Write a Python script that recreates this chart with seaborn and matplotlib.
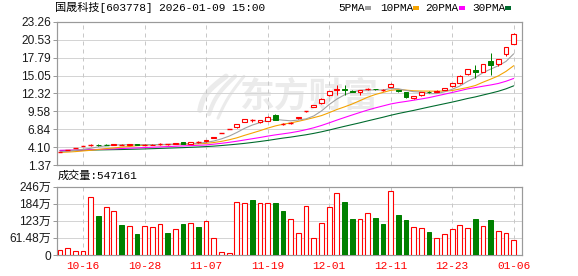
import numpy as np
import pandas as pd
import matplotlib
matplotlib.use("Agg")
import matplotlib.pyplot as plt
from matplotlib.patches import Rectangle
import seaborn as sns

# ---------------- data ----------------
title = "国晟科技[603778] 2026-01-09 15:00"
vol_title = "成交量:547161"
tick_idx = [3, 11, 19, 27, 35, 43, 51, 59]
tick_labels = ["10-16", "10-28", "11-07", "11-19", "12-01", "12-11", "12-23", "01-06"]
price_ticks = [1.37, 4.10, 6.84, 9.58, 12.32, 15.05, 17.79, 20.53, 23.26]
price_tick_labels = ["1.37", "4.10", "6.84", "9.58", "12.32", "15.05", "17.79", "20.53", "23.26"]
vol_ticks = [0, 61.48, 122.96, 184.44, 245.92]
vol_tick_labels = ["0", "61.48万", "123万", "184万", "246万"]

opens = [3.29, 3.62, 3.96, 4.33, 4.45, 4.42, 4.48, 4.45, 4.46, 4.42,
         4.53, 4.48, 4.45, 4.55, 4.55, 4.55, 4.90, 4.62, 4.82, 4.98,
         5.55, 6.29, 6.92, 7.15, 7.95, 8.20, 7.90, 8.10, 8.95, 7.70,
         7.78, 8.50, 9.62, 10.30, 10.80, 12.05, 12.90, 13.00, 12.70, 12.55,
         12.98, 13.02, 12.80, 13.30, 12.85, 12.55, 11.60, 12.05, 12.62, 12.58,
         12.90, 13.40, 13.85, 15.35, 15.85, 15.65, 17.25, 16.90, 18.40, 19.95]
highs = [3.29, 3.62, 3.96, 4.33, 4.62, 4.55, 4.58, 4.56, 4.55, 4.55,
         4.55, 4.65, 4.55, 4.72, 4.62, 4.75, 4.95, 4.85, 5.00, 5.25,
         5.72, 6.29, 6.92, 7.61, 8.37, 8.45, 8.30, 8.80, 9.20, 7.85,
         7.95, 8.78, 9.65, 10.55, 11.55, 12.75, 13.60, 13.55, 12.78, 12.90,
         13.10, 13.08, 12.95, 13.95, 12.90, 12.60, 12.00, 12.60, 12.75, 12.85,
         13.20, 13.95, 15.15, 16.10, 16.65, 16.90, 18.50, 17.65, 19.45, 21.50]
lows = [3.29, 3.62, 3.96, 4.33, 4.32, 4.28, 4.36, 4.42, 4.40, 4.40,
        4.40, 4.42, 4.43, 4.50, 4.50, 4.52, 4.58, 4.58, 4.75, 4.95,
        5.50, 6.29, 6.92, 7.05, 7.90, 7.95, 7.85, 8.05, 8.20, 7.50,
        7.65, 8.45, 9.45, 10.25, 10.75, 12.00, 12.05, 12.10, 12.52, 12.05,
        12.90, 12.85, 12.65, 13.25, 12.62, 11.65, 11.45, 12.00, 12.45, 12.55,
        12.85, 13.35, 13.80, 15.10, 14.70, 15.55, 15.15, 16.50, 18.00, 19.85]
closes = [3.29, 3.62, 3.96, 4.33, 4.47, 4.38, 4.45, 4.52, 4.47, 4.52,
          4.43, 4.50, 4.50, 4.58, 4.57, 4.72, 4.62, 4.82, 4.83, 5.20,
          5.72, 6.29, 6.92, 7.61, 8.37, 8.22, 8.20, 8.75, 8.25, 7.72,
          7.80, 8.75, 9.63, 10.50, 11.52, 12.70, 12.95, 12.90, 12.58, 12.85,
          13.02, 12.97, 12.83, 13.70, 12.70, 11.75, 11.95, 12.55, 12.50, 12.75,
          13.15, 13.85, 15.05, 16.05, 15.65, 16.85, 16.65, 17.60, 19.40, 21.45]

volume_wan = [17, 25, 13, 13, 208, 140, 171, 158, 108, 103,
              75, 103, 99, 110, 79, 93, 111, 114, 100, 122,
              61, 10, 6, 190, 186, 197, 186, 186, 187, 159,
              129, 79, 176, 61, 115, 172, 223, 191, 130, 130,
              150, 134, 111, 231, 144, 127, 100, 97, 83, 61,
              75, 93, 108, 97, 130, 104, 127, 86, 79, 54]
vol_up = [1, 1, 1, 1, 1, 0, 1, 1, 0, 1,
          0, 1, 1, 1, 0, 1, 0, 1, 0, 1,
          1, 1, 1, 1, 1, 0, 1, 1, 0, 0,
          1, 1, 1, 1, 1, 1, 1, 0, 0, 1,
          1, 0, 0, 1, 0, 0, 1, 1, 0, 1,
          1, 1, 1, 1, 0, 1, 0, 1, 1, 1]

ma5 = [3.40, 3.48, 3.60, 3.78, 3.93, 4.15, 4.32, 4.43, 4.46, 4.47,
       4.48, 4.49, 4.48, 4.51, 4.52, 4.57, 4.60, 4.66, 4.71, 4.84,
       5.04, 5.37, 5.79, 6.35, 6.98, 7.48, 7.86, 8.23, 8.36, 8.23,
       8.14, 8.25, 8.43, 8.88, 9.64, 10.62, 11.46, 12.11, 12.53, 12.80,
       12.86, 12.86, 12.85, 13.07, 13.04, 12.79, 12.59, 12.53, 12.29, 12.30,
       12.58, 12.96, 13.46, 14.17, 14.75, 15.49, 16.05, 16.56, 17.23, 18.39]
ma10 = [3.30, 3.35, 3.42, 3.52, 3.62, 3.75, 3.88, 3.98, 4.10, 4.20,
        4.32, 4.40, 4.46, 4.48, 4.49, 4.53, 4.54, 4.57, 4.61, 4.68,
        4.81, 4.99, 5.23, 5.53, 5.91, 6.26, 6.62, 7.01, 7.35, 7.61,
        7.81, 8.06, 8.33, 8.62, 8.93, 9.38, 9.86, 10.27, 10.71, 11.22,
        11.74, 12.16, 12.48, 12.80, 12.92, 12.83, 12.73, 12.69, 12.68, 12.67,
        12.69, 12.77, 13.00, 13.23, 13.53, 14.04, 14.51, 15.01, 15.70, 16.57]
ma20 = [3.62, 3.63, 3.65, 3.68, 3.72, 3.76, 3.80, 3.84, 3.89, 3.94,
        3.99, 4.04, 4.09, 4.14, 4.19, 4.24, 4.29, 4.34, 4.39, 4.44,
        4.56, 4.69, 4.84, 5.01, 5.20, 5.39, 5.58, 5.79, 5.98, 6.14,
        6.31, 6.52, 6.78, 7.07, 7.42, 7.82, 8.24, 8.64, 9.03, 9.41,
        9.78, 10.11, 10.41, 10.71, 10.93, 11.10, 11.29, 11.48, 11.69, 11.95,
        12.21, 12.47, 12.74, 13.02, 13.22, 13.43, 13.62, 13.85, 14.19, 14.62]
ma30 = [3.58, 3.60, 3.62, 3.64, 3.66, 3.68, 3.70, 3.72, 3.74, 3.77,
        3.80, 3.83, 3.87, 3.91, 3.95, 3.99, 4.03, 4.08, 4.13, 4.19,
        4.26, 4.35, 4.45, 4.56, 4.68, 4.82, 4.97, 5.13, 5.31, 5.49,
        5.64, 5.82, 6.00, 6.21, 6.45, 6.72, 7.01, 7.29, 7.56, 7.83,
        8.12, 8.40, 8.68, 8.98, 9.25, 9.49, 9.73, 9.99, 10.25, 10.50,
        10.75, 11.00, 11.27, 11.55, 11.79, 12.08, 12.36, 12.66, 13.03, 13.49]

# ---------------- style ----------------
sns.set_theme(style="white")
plt.rcParams["font.family"] = ["Liberation Sans", "Noto Sans CJK SC", "DejaVu Sans"]

UP = "#ff0000"
DOWN = "#008000"
GRID = "#d4d4d4"
FRAME = "#9a9a9a"
WATER = "#ebebeb"
MA_COLORS = {"5PMA": "#a0a0a0", "10PMA": "#f5a300", "20PMA": "#ff00ff", "30PMA": "#006b2e"}
PX = 0.72  # one pixel in points at dpi 100

W, H = 578, 276
fig = plt.figure(figsize=(W / 100, H / 100), dpi=100)
fig.patch.set_facecolor("white")

L, R = 57, 522
ax = fig.add_axes([L / W, (H - 165) / H, (R - L) / W, (165 - 22) / H])
axv = fig.add_axes([L / W, (H - 255) / H, (R - L) / W, (255 - 186.5) / H])

n = len(closes)
idx = np.arange(n)
xlim = (-0.39, 60.08)
bw = 0.62

# ---------------- watermark (logo strokes + text) ----------------
t = np.linspace(0, 1, 30)
for k in range(3):
    xs_px = 200 + 9 * k + 26 * t - 6 * np.sin(np.pi * t) * (1 - 0.3 * k)
    ys_px = 110 - 34 * t + 4 * k * (1 - t)
    ax.plot((xs_px - 60) / 7.69, 1.37 + (165 - ys_px) / 6.556, color=WATER,
            lw=(4.5 - k) * PX * 1.2, solid_capstyle="round", zorder=0)
ax.text(32.4, 11.9, "东方财富", fontsize=25, color=WATER, ha="center", va="center",
        family=["Noto Sans CJK SC"], fontweight="bold", zorder=0)

# ---------------- candlesticks ----------------
for i in range(n):
    o, h, l, c = opens[i], highs[i], lows[i], closes[i]
    up = c >= o
    col = UP if up else DOWN
    top, bot = max(o, c), min(o, c)
    if top - bot < 0.04:
        ax.vlines(i, l, h, color=col, lw=1 * PX, zorder=3)
        ax.hlines((o + c) / 2, i - bw / 2, i + bw / 2, color=col, lw=1.4 * PX, zorder=3)
        continue
    if h > top:
        ax.vlines(i, top, h, color=col, lw=1 * PX, zorder=3)
    if l < bot:
        ax.vlines(i, l, bot, color=col, lw=1 * PX, zorder=3)
    if up:
        ax.bar(i, top - bot, bottom=bot, width=bw, facecolor="white",
               edgecolor=col, linewidth=1.1 * PX, zorder=4)
    else:
        ax.bar(i, top - bot, bottom=bot, width=bw, facecolor=col,
               edgecolor=col, linewidth=1.0 * PX, zorder=4)

# ---------------- moving averages ----------------
ma_df = pd.DataFrame({"i": idx, "5PMA": ma5, "10PMA": ma10, "20PMA": ma20, "30PMA": ma30})
for name in ["30PMA", "20PMA", "10PMA", "5PMA"]:
    sns.lineplot(data=ma_df, x="i", y=name, ax=ax, color=MA_COLORS[name],
                 linewidth=1.1 * PX, zorder=2, legend=False)

ax.set_xlim(*xlim)
ax.set_ylim(price_ticks[0], price_ticks[-1])
ax.set_yticks(price_ticks)
ax.set_yticklabels(price_tick_labels)
ax.set_xticks(tick_idx)
ax.set_xticklabels([])
ax.set_xlabel("")
ax.set_ylabel("")

# ---------------- volume ----------------
for i in range(n):
    if vol_up[i]:
        axv.bar(i, volume_wan[i], width=bw, facecolor="white", edgecolor=UP,
                linewidth=1.1 * PX, zorder=3)
    else:
        axv.bar(i, volume_wan[i], width=bw, facecolor=DOWN, edgecolor=DOWN,
                linewidth=1.0 * PX, zorder=3)
axv.set_xlim(*xlim)
axv.set_ylim(0, vol_ticks[-1])
axv.set_yticks(vol_ticks)
axv.set_yticklabels(vol_tick_labels)
axv.set_xticks(tick_idx)
axv.set_xticklabels(tick_labels)

for a in (ax, axv):
    a.set_facecolor("white")
    a.grid(False)
    for y in a.get_yticks():
        a.axhline(y, color=GRID, lw=1 * PX, zorder=0.5)
    for x in tick_idx:
        a.axvline(x, color="#c8c8c8", lw=1 * PX, ls=(0, (4, 4)), zorder=0.5)
    for s in a.spines.values():
        s.set_color(FRAME)
        s.set_linewidth(1.2 * PX)
        s.set_visible(True)
    a.tick_params(axis="y", length=3, width=1 * PX, color=FRAME, labelsize=8.6,
                  labelcolor="#1a1a1a", pad=1.5, left=True)
    a.tick_params(axis="x", length=0)

for lab in axv.get_xticklabels():
    lab.set_color("#ff0000")
    lab.set_fontsize(8)
    lab.set_family(["Liberation Mono"])
axv.tick_params(axis="x", pad=4)

# ---------------- header texts ----------------
fig.text(55 / W, 1 - 7.5 / H, title, ha="left", va="center", fontsize=8,
         family=["Liberation Mono", "Noto Sans CJK SC"], color="#000000")
fig.text(58 / W, 1 - 176 / H, vol_title, ha="left", va="center", fontsize=8,
         family=["Liberation Mono", "Noto Sans CJK SC"], color="#000000")

legend_items = [("5PMA", 338, 365), ("10PMA", 380, 413), ("20PMA", 425, 459), ("30PMA", 472, 505)]
for name, tx, mx in legend_items:
    fig.text(tx / W, 1 - 8 / H, name, ha="left", va="center", fontsize=8,
             family=["Liberation Mono"], color="#000000")
    fig.patches.append(Rectangle((mx / W, 1 - 10 / H), 6 / W, 3.5 / H,
                                 transform=fig.transFigure, facecolor=MA_COLORS[name],
                                 edgecolor="none"))

fig.savefig("out.png", dpi=100)
